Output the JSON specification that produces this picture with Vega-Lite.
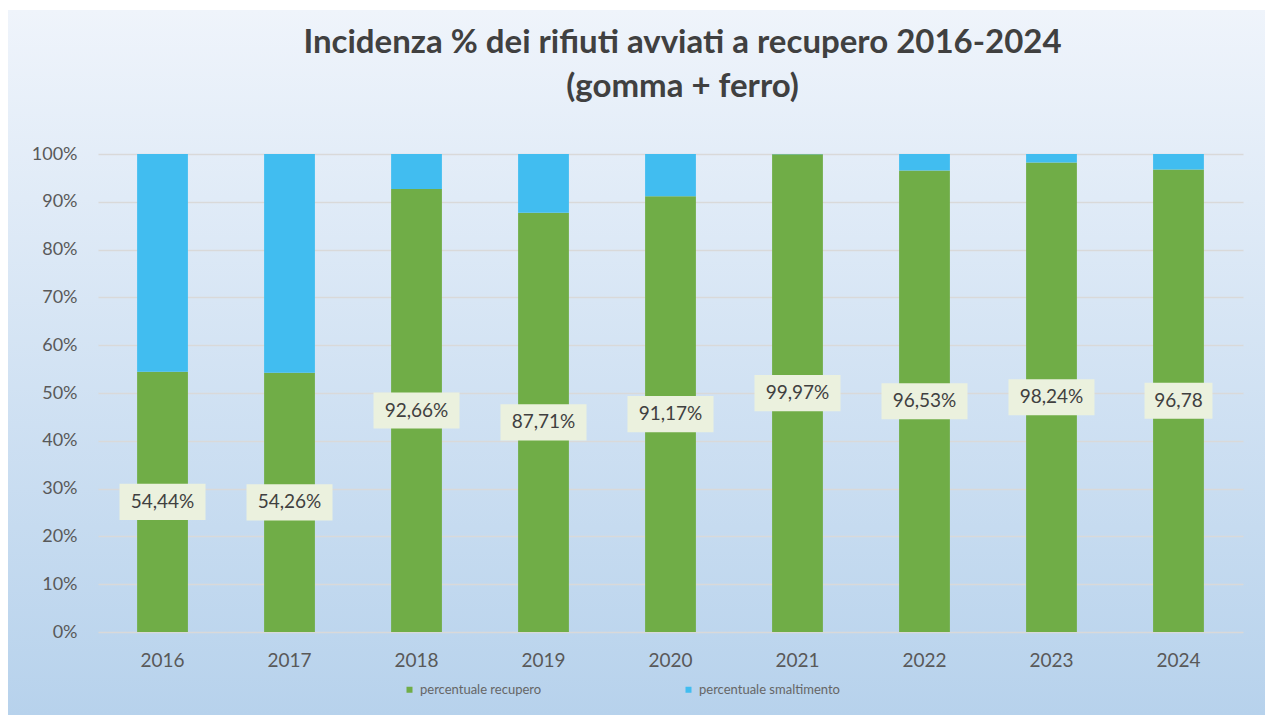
{
  "$schema": "https://vega.github.io/schema/vega-lite/v6.json",
  "width": 1257,
  "height": 705,
  "autosize": {"type": "none"},
  "padding": {"top": 10, "left": 8, "right": 0, "bottom": 0},
  "background": "white",
  "title": {
    "text": ["Incidenza % dei rifiuti avviati a recupero 2016-2024", "(gomma + ferro)"],
    "font": "Lato",
    "fontSize": 33,
    "fontWeight": "bold",
    "color": "#404040",
    "lineHeight": 44,
    "anchor": "middle",
    "frame": "group",
    "baseline": "top",
    "offset": -20,
    "dy": 74,
    "dx": 46
  },
  "config": {
    "view": {
      "stroke": null,
      "fill": {
        "gradient": "linear",
        "x1": 0, "y1": 0, "x2": 0, "y2": 1,
        "stops": [
          {"offset": 0, "color": "#eff4fb"},
          {"offset": 1, "color": "#b7d2ec"}
        ]
      }
    },
    "axis": {"labelFont": "Lato", "labelColor": "#595959", "domain": false, "ticks": false, "title": null}
  },
  "data": {
    "values": [
      {"anno": "2016", "tipo": "percentuale recupero", "valore": 54.44, "etichetta": "54,44%"},
      {"anno": "2017", "tipo": "percentuale recupero", "valore": 54.26, "etichetta": "54,26%"},
      {"anno": "2018", "tipo": "percentuale recupero", "valore": 92.66, "etichetta": "92,66%"},
      {"anno": "2019", "tipo": "percentuale recupero", "valore": 87.71, "etichetta": "87,71%"},
      {"anno": "2020", "tipo": "percentuale recupero", "valore": 91.17, "etichetta": "91,17%"},
      {"anno": "2021", "tipo": "percentuale recupero", "valore": 99.97, "etichetta": "99,97%"},
      {"anno": "2022", "tipo": "percentuale recupero", "valore": 96.53, "etichetta": "96,53%"},
      {"anno": "2023", "tipo": "percentuale recupero", "valore": 98.24, "etichetta": "98,24%"},
      {"anno": "2024", "tipo": "percentuale recupero", "valore": 96.78, "etichetta": "96,78"},
      {"anno": "2016", "tipo": "percentuale smaltimento", "valore": 45.56},
      {"anno": "2017", "tipo": "percentuale smaltimento", "valore": 45.74},
      {"anno": "2018", "tipo": "percentuale smaltimento", "valore": 7.34},
      {"anno": "2019", "tipo": "percentuale smaltimento", "valore": 12.29},
      {"anno": "2020", "tipo": "percentuale smaltimento", "valore": 8.83},
      {"anno": "2021", "tipo": "percentuale smaltimento", "valore": 0.03},
      {"anno": "2022", "tipo": "percentuale smaltimento", "valore": 3.47},
      {"anno": "2023", "tipo": "percentuale smaltimento", "valore": 1.76},
      {"anno": "2024", "tipo": "percentuale smaltimento", "valore": 3.22}
    ]
  },
  "encoding": {
    "x": {
      "field": "anno",
      "type": "nominal",
      "sort": null,
      "scale": {"range": [90, 1235], "paddingInner": 0.6, "paddingOuter": 0.308},
      "axis": {"orient": "bottom", "offset": -65, "labelPadding": 1, "labelFontSize": 19, "labelAngle": 0, "grid": false}
    }
  },
  "layer": [
    {
      "mark": {"type": "bar"},
      "encoding": {
        "y": {
          "field": "valore",
          "type": "quantitative",
          "stack": "zero",
          "scale": {"domain": [0, 100], "range": [622, 144], "nice": false},
          "axis": {
            "orient": "left",
            "offset": -70,
            "labelPadding": 1,
            "values": [0, 10, 20, 30, 40, 50, 60, 70, 80, 90, 100],
            "labelExpr": "datum.value + '%'",
            "labelFontSize": 18,
            "grid": true,
            "gridColor": "#d9d9d9",
            "gridWidth": 1.5
          }
        },
        "color": {
          "field": "tipo",
          "type": "nominal",
          "scale": {"domain": ["percentuale recupero", "percentuale smaltimento"], "range": ["#70ad47", "#41bdf0"]},
          "legend": {
            "title": null,
            "orient": "none",
            "legendX": 395,
            "legendY": 673,
            "direction": "horizontal",
            "columns": 2,
            "columnPadding": 140,
            "symbolType": "square",
            "symbolSize": 36,
            "labelFont": "Lato",
            "labelFontSize": 13,
            "labelColor": "#666666"
          }
        },
        "order": {"field": "tipo", "sort": "ascending"}
      }
    },
    {
      "transform": [
        {"filter": "datum.tipo == 'percentuale recupero'"},
        {"calculate": "datum.valore / 2", "as": "meta"}
      ],
      "mark": {"type": "point", "filled": true, "opacity": 1, "color": "#ebf1de", "strokeWidth": 0},
      "encoding": {
        "y": {"field": "meta", "type": "quantitative"},
        "size": {"value": 7396},
        "shape": {
          "condition": {"test": "indexof(datum.etichetta, '%') < 0", "value": "M-0.79,-0.42L0.79,-0.42L0.79,0.42L-0.79,0.42Z"},
          "value": "M-1,-0.42L1,-0.42L1,0.42L-1,0.42Z"
        }
      }
    },
    {
      "transform": [
        {"filter": "datum.tipo == 'percentuale recupero'"},
        {"calculate": "datum.valore / 2", "as": "meta"}
      ],
      "mark": {"type": "text", "font": "Lato", "fontSize": 19, "color": "#404040", "baseline": "middle", "align": "center"},
      "encoding": {
        "y": {"field": "meta", "type": "quantitative"},
        "text": {"field": "etichetta", "type": "nominal"}
      }
    }
  ]
}
